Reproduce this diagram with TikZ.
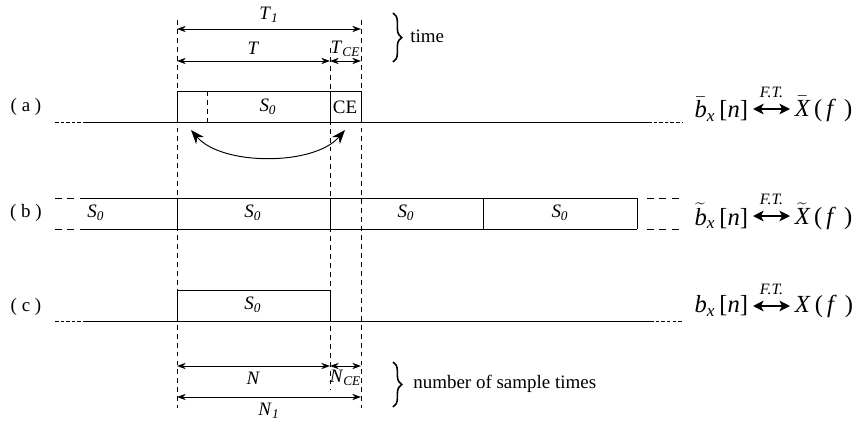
\documentclass[tikz,border=0pt]{standalone}
\usepackage{fontspec}
\setmainfont{Liberation Serif}
\usetikzlibrary{arrows.meta,decorations.pathreplacing}
\newcommand{\sublbl}[2]{\textit{#1}\textsubscript{\textit{#2}}}
\newcommand{\barit}[1]{$\bar{\mbox{\itshape #1}}$}
\newcommand{\tilit}[1]{$\widetilde{\mbox{\itshape #1}}$}
\tikzset{
  guide/.style={dash pattern=on 2.8pt off 2.3pt, line width=0.45pt},
  finedash/.style={dash pattern=on 2pt off 1.2pt, line width=0.5pt},
  coarsedash/.style={dash pattern=on 4pt off 3pt, line width=0.5pt},
  dim/.style={<->, >={Stealth[length=5pt,width=3.6pt]}, line width=0.55pt},
  swaparrow/.style={<->, >={Stealth[length=8pt,width=6pt]}, line width=0.55pt},
  ftarrow/.style={<->, >={Stealth[length=6pt,width=6pt,inset=1.5pt]}, line width=1.3pt},
  formula/.style={font=\fontsize{14}{16}\selectfont, inner sep=2.5pt},
  ftlbl/.style={font=\fontsize{9}{10}\selectfont\itshape, inner sep=1pt},
  thebrace/.style={decorate, decoration={brace, amplitude=5pt}, line width=0.9pt}
}
\begin{document}
\begin{tikzpicture}[x=0.02cm, y=-0.02cm, font=\fontsize{10.8}{13}\selectfont, line width=0.55pt]
  \useasboundingbox (0,0) rectangle (858,423);
  % vertical guide lines
  \draw[guide] (177,20) -- (177,408);
  \draw[guide] (330,48) -- (330,390);
  \draw[guide] (361,20) -- (361,408);
  % time lengths
  \coordinate (t1l) at (177,29);  \coordinate (t1r) at (361,29);
  \coordinate (tl) at (177,61);   \coordinate (tm) at (330,61);   \coordinate (tr) at (361,61);
  \draw[dim] (t1l) -- node[above] {\sublbl{T}{1}} (t1r);
  \draw[dim] (tl) -- node[above] {\textit{T}} (tm);
  \draw[dim] (tm) -- node[above, inner sep=2pt] {\sublbl{T}{CE}} (tr);
  \draw[thebrace] (393,13) -- (393,62);
  \node[right] (time) at (404,36) {time};
  % (a)
  \node (ra) at (26,107) {( a )};
  \draw[finedash] (55,122) -- (87,122);
  \draw (87,122) -- (648,122);
  \draw[finedash] (648,122) -- (683,122);
  \draw (177,91) rectangle (361,122);
  \draw (330,91) -- (330,122);
  \draw[guide] (207,91) -- (207,122);
  \node (sa) at (268,107) {\sublbl{S}{0}};
  \node (cea) at (345,107) {CE};
  \coordinate (cpl) at (191,130); \coordinate (cpr) at (345,130);
  \draw[swaparrow] (cpl) .. controls (222,166) and (314,166) .. (cpr);
  \node[formula, left] (ba) at (753,109) {\barit{b}\textsubscript{\textit{x}}\,[\textit{n}]};
  \node[formula, right] (Xa) at (790,109) {\barit{X}\,(\,\textit{f}\,\,)};
  \draw[ftarrow] (ba.east) -- node[ftlbl, above=5pt] {F.T.} (Xa.west);
  % (b)
  \node (rb) at (26,213) {( b )};
  \draw[coarsedash] (55,198) -- (87,198);
  \draw[coarsedash] (55,229) -- (87,229);
  \draw (87,198) -- (637,198);
  \draw (87,229) -- (637,229);
  \foreach \x in {177,330,483,637}
    \draw (\x,198) -- (\x,229);
  \draw[coarsedash] (647,198) -- (680,198);
  \draw[coarsedash] (647,229) -- (680,229);
  \node (sb1) at (96,213) {\sublbl{S}{0}};
  \node (sb2) at (253,213) {\sublbl{S}{0}};
  \node (sb3) at (406,213) {\sublbl{S}{0}};
  \node (sb4) at (560,213) {\sublbl{S}{0}};
  \node[formula, left] (bb) at (753,216) {\tilit{b}\textsubscript{\textit{x}}\,[\textit{n}]};
  \node[formula, right] (Xb) at (790,216) {\tilit{X}\,(\,\textit{f}\,\,)};
  \draw[ftarrow] (bb.east) -- node[ftlbl, above=5pt] {F.T.} (Xb.west);
  % (c)
  \node (rc) at (26,307) {( c )};
  \draw[finedash] (55,321) -- (87,321);
  \draw (87,321) -- (650,321);
  \draw[finedash] (650,321) -- (683,321);
  \draw (177,290) rectangle (330,321);
  \node (sc) at (253,305) {\sublbl{S}{0}};
  \node[formula, left] (bc) at (753,306) {\textit{b}\textsubscript{\textit{x}}\,[\textit{n}]};
  \node[formula, right] (Xc) at (790,306) {\textit{X}\,(\,\textit{f}\,\,)};
  \draw[ftarrow] (bc.east) -- node[ftlbl, above=5pt] {F.T.} (Xc.west);
  % sample lengths
  \coordinate (nl) at (177,366);  \coordinate (nm) at (330,366);  \coordinate (nr) at (361,366);
  \coordinate (n1l) at (177,397); \coordinate (n1r) at (361,397);
  \draw[dim] (nl) -- node[below] {\textit{N}} (nm);
  \draw[dim] (nm) -- node[below, inner sep=2pt] {\sublbl{N}{CE}} (nr);
  \draw[dim] (n1l) -- node[below] {\sublbl{N}{1}} (n1r);
  \draw[thebrace] (393,362) -- (393,407);
  \node[right] (nst) at (407,384) {number of sample times};
\end{tikzpicture}
\end{document}
